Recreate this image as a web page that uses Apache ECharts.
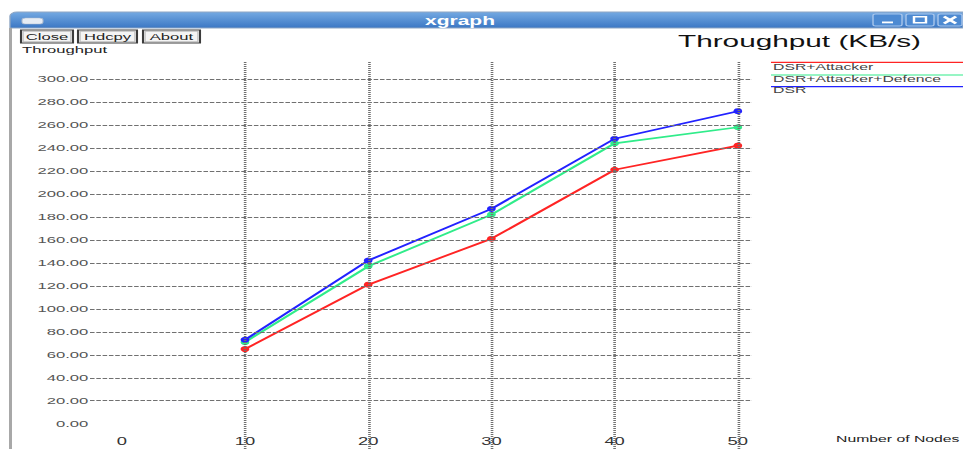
<!DOCTYPE html>
<html><head><meta charset="utf-8">
<script src="https://cdn.jsdelivr.net/npm/echarts@6/dist/echarts.min.js"></script>
<style>
html,body{margin:0;padding:0;background:#fff;overflow:hidden;width:963px;height:449px}
#chart{width:550px;height:449px;transform:scaleX(1.751);transform-origin:0 0}
</style></head><body><div id="chart"></div>
<script>
// ---- data ----
const nodes = [10, 20, 30, 40, 50];
const dsrAttacker = [65, 121, 161, 221, 242];
const dsrAttackerDefence = [71, 137, 182, 244, 258];
const dsr = [73, 142, 187, 248, 272];
const seriesNames = ['DSR+Attacker', 'DSR+Attacker+Defence', 'DSR'];
const xTickValues = [0, 10, 20, 30, 40, 50];
const yTickValues = [0, 20, 40, 60, 80, 100, 120, 140, 160, 180, 200, 220, 240, 260, 280, 300];
const hGridValues = [20, 40, 60, 80, 100, 120, 140, 160, 180, 200, 220, 240, 260, 280, 300];
const vGridValues = [10, 20, 30, 40, 50];
const chartTitle = 'Throughput (KB/s)';
const yName = 'Throughput';
const xName = 'Number of Nodes';
const windowTitle = 'xgraph';
const buttonLabels = ['Close', 'Hdcpy', 'About'];

// ---- style ----
const S = 1.751;              // horizontal stretch of the photographed window
const X = v => v / S;         // page px -> chart px
const FONT = '"Liberation Sans", Arial, Helvetica, sans-serif';
const colors = ['#ff2424', '#30ec8a', '#2222ff'];
const seriesData = [dsrAttacker, dsrAttackerDefence, dsr];

const chart = echarts.init(document.getElementById('chart'), null, {renderer: 'svg'});

const graphics = [];
// title bar
graphics.push({type: 'rect', shape: {x: X(10), y: 12, width: 550 - X(10), height: 16, r: [4, 0, 0, 0]},
  style: {fill: new echarts.graphic.LinearGradient(0, 0, 0, 1, [{offset: 0, color: '#74a9e2'}, {offset: 1, color: '#3b77c4'}]), stroke: '#8ea6c4', lineWidth: 0.8}});
graphics.push({type: 'rect', shape: {x: X(22), y: 18, width: X(21), height: 6, r: 2}, style: {fill: '#e6ecf4', stroke: '#aab8cc', lineWidth: 0.6}});
graphics.push({type: 'text', x: X(460), y: 21, style: {text: windowTitle, font: 'bold 12px ' + FONT, fill: '#fff', align: 'center', verticalAlign: 'middle'}});
// window buttons
[[873, 29], [906, 28], [938, 24]].forEach(([bx, bw]) => {
  graphics.push({type: 'rect', shape: {x: X(bx), y: 14, width: X(bw), height: 12, r: 1.5},
    style: {fill: '#4d8ad2', stroke: '#a8c6ec', lineWidth: 0.8}});
});
graphics.push({type: 'rect', shape: {x: X(882), y: 21.5, width: X(11), height: 1.8}, style: {fill: '#fff'}});
graphics.push({type: 'rect', shape: {x: X(914), y: 16.8, width: X(12), height: 6}, style: {fill: 'none', stroke: '#fff', lineWidth: 1.4}});
graphics.push({type: 'line', shape: {x1: X(944), y1: 16.5, x2: X(956), y2: 23.5}, style: {stroke: '#fff', lineWidth: 2}});
graphics.push({type: 'line', shape: {x1: X(944), y1: 23.5, x2: X(956), y2: 16.5}, style: {stroke: '#fff', lineWidth: 2}});
// left border
graphics.push({type: 'rect', shape: {x: X(9), y: 28, width: X(3), height: 421}, style: {fill: '#a8a8a8'}});
// Close / Hdcpy / About buttons
[[21, 52], [78, 59], [143, 57]].forEach(([bx, bw], i) => {
  graphics.push({type: 'rect', shape: {x: X(bx), y: 30, width: X(bw), height: 13},
    style: {fill: '#f4f4f4', stroke: '#3c3c3c', lineWidth: 1.2}});
  graphics.push({type: 'rect', shape: {x: X(bx) + 1.2, y: 31.4, width: X(bw) - 2.4, height: 10.2},
    style: {fill: 'none', stroke: '#bdbdbd', lineWidth: 0.7}});
  graphics.push({type: 'text', x: X(bx + bw / 2), y: 36.8, style: {text: buttonLabels[i], font: '9.5px ' + FONT, fill: '#222', align: 'center', verticalAlign: 'middle'}});
});
// texts
graphics.push({type: 'text', x: X(22), y: 50, style: {text: yName, font: '9.5px ' + FONT, fill: '#222', verticalAlign: 'middle'}});
graphics.push({type: 'text', x: X(678), y: 41, style: {text: chartTitle, font: '17px ' + FONT, fill: '#111', verticalAlign: 'middle'}});
graphics.push({type: 'text', x: X(836), y: 439, style: {text: xName, font: '9px ' + FONT, fill: '#222', verticalAlign: 'middle'}});
// legend (line above each name)
const legLineY = [62.3, 75, 86.7];
const legTextY = [67.3, 79, 90.3];
seriesNames.forEach((n, i) => {
  graphics.push({type: 'line', shape: {x1: X(771), y1: legLineY[i], x2: 550, y2: legLineY[i]}, style: {stroke: colors[i], lineWidth: 1.2}});
  graphics.push({type: 'text', x: X(773), y: legTextY[i], style: {text: n, font: '9px ' + FONT, fill: '#444', verticalAlign: 'middle'}});
});

const gridMarks = [];
hGridValues.forEach(v => gridMarks.push({yAxis: v, lineStyle: {color: '#707070', width: 0.9, type: [2.6, 1]}}));
vGridValues.forEach(v => gridMarks.push({xAxis: v, lineStyle: {color: '#707070', width: 1.5, type: [1, 1]}}));

const series = [{
  type: 'line', name: 'grid', data: [], silent: true, z: 1,
  markLine: {silent: true, symbol: 'none', animation: false, label: {show: false}, data: gridMarks}
}];
seriesNames.forEach((n, i) => {
  series.push({
    type: 'line', name: n, z: 3,
    data: nodes.map((x, j) => [x, seriesData[i][j]]),
    symbol: 'circle', symbolSize: [5, 6],
    lineStyle: {color: colors[i], width: 1.7},
    itemStyle: {color: colors[i]},
    animation: false
  });
});

chart.setOption({
  backgroundColor: '#fff',
  animation: false,
  textStyle: {fontFamily: FONT},
  grid: {left: X(90), right: 550 - X(752), top: 62, bottom: 0, containLabel: false, outerBoundsMode: 'none'},
  xAxis: {
    type: 'value', min: -2.58, max: 51.15,
    axisLine: {show: false}, axisTick: {show: false}, splitLine: {show: false},
    axisLabel: {customValues: xTickValues, margin: -13, fontSize: 10.5, color: '#333', fontFamily: FONT,
      backgroundColor: '#fff', padding: [0, 1]}
  },
  yAxis: {
    type: 'value', min: -22, max: 314.8,
    axisLine: {show: false}, axisTick: {show: false}, splitLine: {show: false},
    axisLabel: {customValues: yTickValues, margin: 1, fontSize: 9.5, color: '#555', fontFamily: FONT,
      formatter: v => v.toFixed(2)}
  },
  graphic: graphics,
  series: series
});
</script></body></html>
